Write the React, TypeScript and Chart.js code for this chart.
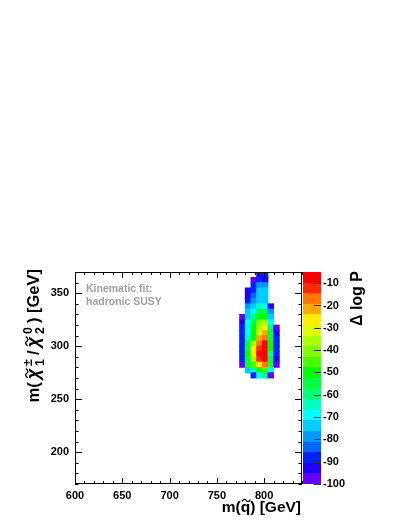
import React, { useEffect, useRef } from "react";
import { Chart, registerables } from "chart.js";

Chart.register(...registerables);

// ---- data ----
const xCenters = [777, 783, 789, 795, 801, 807, 813];
const yCenters = [
  367.5, 362.5, 357.5, 352.5, 347.5, 342.5, 337.5, 332.5, 327.5, 322.5,
  317.5, 312.5, 307.5, 302.5, 297.5, 292.5, 287.5, 282.5, 277.5, 272.5,
];
const yBinHeight = 5;
const cellValues: (number | null)[][] = [
  [null, null, null, -93, -88, null, null],
  [null, null, -98, -88, -93, null, null],
  [null, null, -88, -79, -79, null, null],
  [null, -93, -88, -74, -74, null, null],
  [null, -93, -83, -74, -74, null, null],
  [null, -88, -79, -74, -74, null, null],
  [null, -79, -74, -64, -69, -93, null],
  [null, -74, -69, -55, -55, -79, null],
  [-98, -74, -60, -50, -50, -74, null],
  [-93, -69, -55, -41, -36, -69, null],
  [-88, -69, -50, -36, -26, -60, -98],
  [-88, -69, -50, -31, -22, -55, -93],
  [-88, -64, -50, -22, -17, -55, -88],
  [-88, -55, -36, -17, -7, -50, -88],
  [-88, -55, -26, -12, -7, -50, -88],
  [-88, -50, -26, -7, -7, -60, -88],
  [-88, -55, -36, -12, -7, -55, -93],
  [-98, -55, -45, -26, -17, -55, -98],
  [null, -74, -64, -50, -45, -69, null],
  [null, null, -88, -69, -60, -98, null],
];
const yTickValues = [200, 250, 300, 350];
const zMin = -100;
const zMax = -5;
const legendLines = ["Kinematic fit:", "hadronic SUSY"];
const zTitle = "\u0394 log P";

// palette bands, top (max) to bottom (min)
const paletteColors = [
  "#ff0000", "#ff2a00", "#ff7700", "#ffaa00", "#ffee00",
  "#ddff00", "#aaff00", "#80ff00", "#44ff00", "#00ff00",
  "#00ff40", "#00ff80", "#00ffc0", "#00ffff", "#00ccff",
  "#0099ff", "#0066ff", "#0022ff", "#2200ff", "#6600ff",
];

const FONT = '"Liberation Sans", Arial, Helvetica, sans-serif';

function colorFor(v: number): string {
  const n = paletteColors.length;
  let k = Math.floor(((zMax - v) / (zMax - zMin)) * n);
  if (k < 0) k = 0;
  if (k > n - 1) k = n - 1;
  return paletteColors[k];
}

type Piece =
  | { t: string; italic?: boolean; tilde?: boolean; scale?: number }
  | { sup: string; sub: string }
  | { gap: number };

function drawTilde(ctx: CanvasRenderingContext2D, cx: number, y: number, w: number, size: number) {
  const a = size * 0.06;
  ctx.save();
  ctx.lineWidth = Math.max(1.1, size * 0.08);
  ctx.beginPath();
  ctx.moveTo(cx - w / 2, y + a);
  ctx.bezierCurveTo(cx - w / 4, y - 2.2 * a, cx - w / 12, y - 1.2 * a, cx, y);
  ctx.bezierCurveTo(cx + w / 12, y + 1.2 * a, cx + w / 4, y + 2.2 * a, cx + w / 2, y - a);
  ctx.stroke();
  ctx.restore();
}

function richText(
  ctx: CanvasRenderingContext2D,
  pieces: Piece[],
  size: number,
  x0: number,
  draw: boolean
): number {
  let x = x0;
  const f = (s: number, it?: boolean) => `${it ? "italic " : ""}bold ${s}px ${FONT}`;
  for (const p of pieces) {
    if ("gap" in p) {
      x += p.gap;
    } else if ("sup" in p) {
      const s = size * 0.75;
      ctx.font = f(s);
      const w = Math.max(ctx.measureText(p.sup).width, ctx.measureText(p.sub).width);
      if (draw) {
        ctx.fillText(p.sup, x + 1, -size * 0.45);
        ctx.fillText(p.sub, x + 1, size * 0.32);
      }
      x += w + 2;
    } else {
      const s = size * (p.scale || 1);
      ctx.font = f(s, p.italic);
      const w = ctx.measureText(p.t).width;
      if (draw) {
        ctx.fillText(p.t, x, 0);
        if (p.tilde) drawTilde(ctx, x + w * 0.58, -size * 0.74, w * 0.9, size);
      }
      x += w;
    }
  }
  return x - x0;
}

const yTitle: Piece[] = [
  { t: "m(" },
  { gap: 3 },
  { t: "\u03c7", italic: true, tilde: true, scale: 1.1 },
  { gap: 2 },
  { sup: "\u00b1", sub: "1" },
  { gap: 3 },
  { t: "/" },
  { gap: 3 },
  { t: "\u03c7", italic: true, tilde: true, scale: 1.1 },
  { gap: 2 },
  { sup: "0", sub: "2" },
  { gap: 3 },
  { t: ") [GeV]" },
];
const xTitle: Piece[] = [{ t: "m(" }, { t: "q", tilde: true }, { t: ") [GeV]" }];

const decorPlugin = {
  id: "decor",
  afterDraw(chart: any) {
    const ctx: CanvasRenderingContext2D = chart.ctx;
    const { left, right, top, bottom } = chart.chartArea;
    const xs = chart.scales.x;
    const ys = chart.scales.y;
    const zs = chart.scales.z;
    ctx.save();
    // palette
    const n = paletteColors.length;
    const step = (zMax - zMin) / n;
    const px0 = right + 1;
    const pw = 18;
    for (let k = 0; k < n; k++) {
      const y1 = zs.getPixelForValue(zMax - k * step);
      const y2 = zs.getPixelForValue(zMax - (k + 1) * step);
      ctx.fillStyle = paletteColors[k];
      ctx.fillRect(px0, Math.round(y1), pw, Math.round(y2) - Math.round(y1));
    }
    ctx.strokeStyle = "#333";
    ctx.lineWidth = 1;
    for (const t of zs.ticks) {
      const y = Math.round(zs.getPixelForValue(t.value)) + 0.5;
      ctx.beginPath();
      ctx.moveTo(px0 + pw - 7, y);
      ctx.lineTo(px0 + pw, y);
      ctx.stroke();
    }
    // frame
    ctx.strokeStyle = "#000";
    ctx.lineWidth = 1;
    ctx.strokeRect(left + 0.5, top + 0.5, right - left - 1, bottom - top - 1);
    // ticks
    ctx.beginPath();
    for (let v = 600; v <= 840; v += 10) {
      const L = v % 50 === 0 ? 6 : 3;
      const x = Math.round(xs.getPixelForValue(v)) + 0.5;
      ctx.moveTo(x, bottom);
      ctx.lineTo(x, bottom - L);
      ctx.moveTo(x, top);
      ctx.lineTo(x, top + L);
    }
    for (let v = 170; v <= 370; v += 10) {
      const L = v % 50 === 0 ? 7 : 3.5;
      const y = Math.round(ys.getPixelForValue(v)) + 0.5;
      ctx.moveTo(left, y);
      ctx.lineTo(left + L, y);
      ctx.moveTo(right, y);
      ctx.lineTo(right - L, y);
    }
    ctx.stroke();

    // legend text
    ctx.fillStyle = "#a0a0a0";
    ctx.font = `bold 10.5px ${FONT}`;
    ctx.textAlign = "left";
    ctx.textBaseline = "alphabetic";
    ctx.fillText(legendLines[0], left + 11, top + 19.5);
    ctx.fillText(legendLines[1], left + 11, top + 32.5);

    // titles
    ctx.fillStyle = "#000";
    ctx.strokeStyle = "#000";
    const ts = 15.5;
    const wx = richText(ctx, xTitle, ts, 0, false);
    ctx.save();
    ctx.translate(right - 1 - wx, 512);
    richText(ctx, xTitle, ts, 0, true);
    ctx.restore();
    const tsy = 16.5;
    const wy = richText(ctx, yTitle, tsy, 0, false);
    ctx.save();
    ctx.translate(39, top - 3);
    ctx.rotate(-Math.PI / 2);
    richText(ctx, yTitle, tsy, -wy, true);
    ctx.restore();
    ctx.save();
    ctx.font = `bold 16px ${FONT}`;
    const wz = ctx.measureText(zTitle).width;
    ctx.translate(362, top - 1);
    ctx.rotate(-Math.PI / 2);
    ctx.fillText(zTitle, -wz, 0);
    ctx.restore();
    ctx.restore();
  },
};

export default function App() {
  const ref = useRef<HTMLCanvasElement | null>(null);
  useEffect(() => {
    if (!ref.current) return;
    const cells: { x: number; y: [number, number]; v: number }[] = [];
    cellValues.forEach((row, i) => {
      row.forEach((v, j) => {
        if (v === null) return;
        const yc = yCenters[i];
        cells.push({ x: xCenters[j], y: [yc - yBinHeight / 2, yc + yBinHeight / 2], v });
      });
    });
    const tickFont = { family: FONT, size: 11, weight: "bold" as const };
    const chart = new Chart(ref.current, {
      type: "bar",
      data: {
        datasets: [
          {
            data: cells as any,
            backgroundColor: (c: any) => (c.raw ? colorFor(c.raw.v) : "#fff"),
            borderWidth: 0,
            barPercentage: 1,
            categoryPercentage: 1,
            inflateAmount: 0.4,
            grouped: false,
            yAxisID: "y",
          } as any,
        ],
      },
      options: {
        responsive: false,
        animation: false,
        devicePixelRatio: 1,
        indexAxis: "x",
        layout: { padding: { top: 272, left: 0, right: 0, bottom: 0 } },
        plugins: { legend: { display: false }, tooltip: { enabled: false } },
        scales: {
          x: {
            type: "linear",
            min: 600,
            max: 840,
            offset: false,
            grid: { display: false, drawTicks: false },
            border: { display: false },
            ticks: {
              stepSize: 50,
              includeBounds: false,
              font: tickFont,
              color: "#000",
              padding: 5,
              maxRotation: 0,
              autoSkip: false,
            },
            afterFit: (s: any) => {
              s.height = 43;
            },
          },
          y: {
            type: "linear",
            min: 170,
            max: 370,
            grid: { display: false, drawTicks: false },
            border: { display: false },
            ticks: {
              font: tickFont,
              color: "#000",
              padding: 6,
              autoSkip: false,
            },
            afterBuildTicks: (s: any) => {
              s.ticks = yTickValues.map((v) => ({ value: v }));
            },
            afterFit: (s: any) => {
              s.width = 75;
            },
          },
          z: {
            type: "linear",
            axis: "y",
            position: "right",
            min: zMin,
            max: zMax,
            grid: { display: false, drawTicks: false },
            border: { display: false },
            ticks: {
              stepSize: 10,
              includeBounds: false,
              font: tickFont,
              color: "#000",
              padding: 21,
            },
            afterFit: (s: any) => {
              s.width = 105;
            },
          },
        } as any,
      },
      plugins: [decorPlugin],
    });
    return () => chart.destroy();
  }, []);
  return (
    <div style={{ position: "fixed", left: 0, top: 0, width: 407, height: 527 }}>
      <canvas ref={ref} width={407} height={527} style={{ display: "block" }} />
    </div>
  );
}
